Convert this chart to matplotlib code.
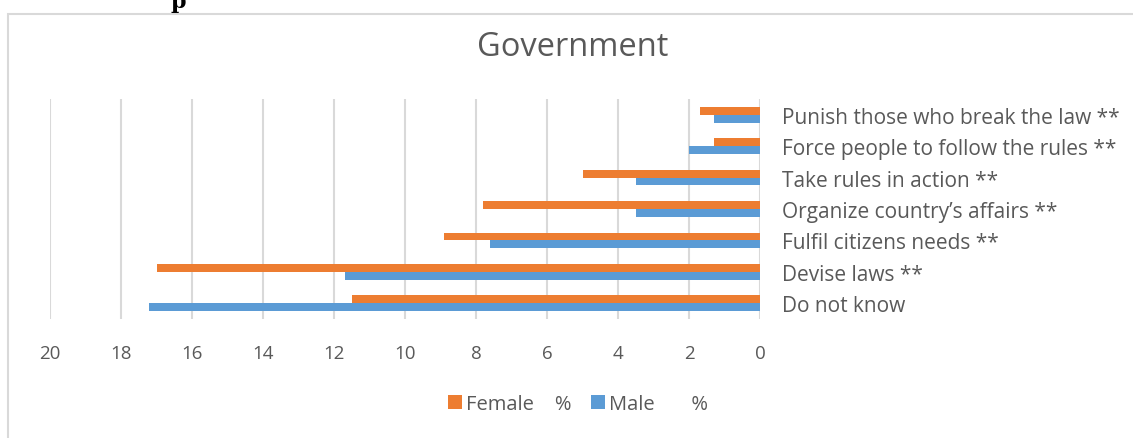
import matplotlib
matplotlib.use("Agg")
import matplotlib.pyplot as plt
from matplotlib.patches import Rectangle
import numpy as np

# categories bottom -> top, as drawn
categories = [
    "Do not know",
    "Devise laws **",
    "Fulfil citizens needs **",
    "Organize country\u2019s affairs **",
    "Take rules in action **",
    "Force people to follow the rules **",
    "Punish those who break the law **",
]
female = [11.5, 17.0, 8.9, 7.8, 5.0, 1.3, 1.7]
male = [17.2, 11.7, 7.6, 3.5, 3.5, 2.0, 1.3]
xticks = [20, 18, 16, 14, 12, 10, 8, 6, 4, 2, 0]

ORANGE = "#ED7D31"
BLUE = "#5B9BD5"
GREY = "#595959"
GRID = "#d9d9d9"

plt.rcParams["font.family"] = ["Open Sans", "DejaVu Sans"]

fig = plt.figure(figsize=(11.33, 4.39), dpi=100)
# outer chart frame (cut off at right and bottom)
fig.patches.append(Rectangle((8 / 1133, -0.05), 1.2, 1 - 15 / 439 + 0.05,
                             transform=fig.transFigure, fill=False,
                             edgecolor=GRID, linewidth=1.5))
# fragment of heading above the chart
fig.text(178 / 1133, 0.995, "p", ha="center", va="center", fontsize=16,
         fontweight="bold", family="DejaVu Serif", color="black")

ax = fig.add_axes([50 / 1133, 1 - 320 / 439, 710 / 1133, 220 / 439])
y = np.arange(len(categories))
h = 0.25
ax.barh(y + h / 2, female, h, color=ORANGE, label="Female    %", zorder=3)
ax.barh(y - h / 2, male, h, color=BLUE, label="Male       %", zorder=3)

ax.set_xlim(20, 0)
ax.set_ylim(-0.5, len(categories) - 0.5)
ax.set_xticks(xticks)
ax.set_xticklabels([str(t) for t in xticks], color=GREY, fontsize=13.5)
ax.tick_params(axis="x", length=0, pad=18)
ax.grid(axis="x", color=GRID, linewidth=1.5, zorder=0)
ax.yaxis.tick_right()
ax.set_yticks(y)
ax.set_yticklabels(categories, color=GREY, fontsize=15)
ax.tick_params(axis="y", length=0, pad=16)
for s in ax.spines.values():
    s.set_visible(False)

fig.text(573 / 1133, 1 - 48 / 439, "Government", ha="center", va="center",
         fontsize=23.5, color=GREY)

handles, labels = ax.get_legend_handles_labels()
fig.legend(handles, labels, loc="center", bbox_to_anchor=(578 / 1133, 1 - 405 / 439),
           ncol=2, frameon=False, fontsize=14.5, labelcolor=GREY,
           handlelength=0.7, handleheight=0.7, handletextpad=0.2, columnspacing=1.0)

fig.savefig("out.png", dpi=100)
